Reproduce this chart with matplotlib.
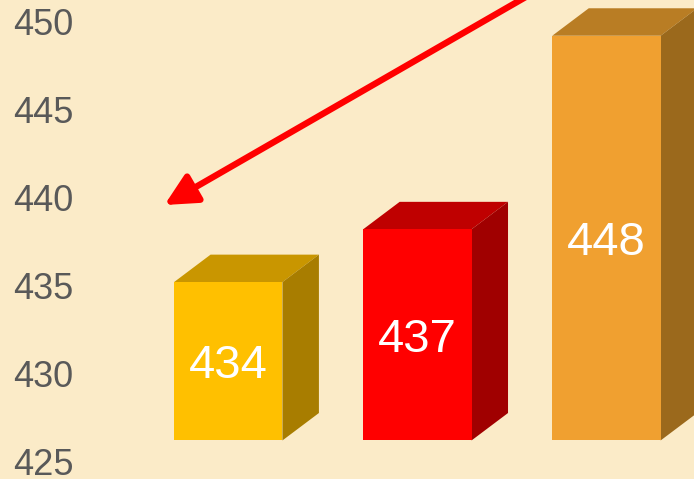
import matplotlib.pyplot as plt
import matplotlib.transforms as mtransforms
from matplotlib.patches import Polygon

plt.rcParams['font.family'] = ['Liberation Sans', 'DejaVu Sans']

# data
values = [434, 437, 448]
front_colors = ['#FFC000', '#FF0000', '#F0A030']
top_colors = ['#C99600', '#BF0000', '#B97D24']
side_colors = ['#A87D00', '#A00000', '#9B691C']
tick_values = [425, 430, 435, 440, 445, 450]
base = 425

bg = '#FBEBC8'
width = 0.573
dx, dy = 0.193, 1.56   # depth offset of the 3D boxes

fig = plt.figure(figsize=(6.94, 4.79), dpi=100, facecolor=bg)
ax = fig.add_axes([0, 0, 1, 1])
ax.set_facecolor(bg)
ax.set_xlim(-1.207, 2.463)
ax.set_ylim(422.81, 450.03)
ax.axis('off')

xs = list(range(len(values)))
ax.bar(xs, [v - base for v in values], bottom=base, width=width,
       color=front_colors, zorder=3)

for x, v, tc, sc in zip(xs, values, top_colors, side_colors):
    l, r = x - width / 2, x + width / 2
    top = Polygon([(l, v), (r, v), (r + dx, v + dy), (l + dx, v + dy)],
                  closed=True, facecolor=tc, edgecolor='none', zorder=2)
    side = Polygon([(r, base), (r + dx, base + dy), (r + dx, v + dy), (r, v)],
                   closed=True, facecolor=sc, edgecolor='none', zorder=2)
    ax.add_patch(top)
    ax.add_patch(side)

# value labels, centred on the front face
lab_tr = mtransforms.offset_copy(ax.transData, fig=fig, x=0, y=-17, units='dots')
for x, v in zip(xs, values):
    ax.text(x, (base + v) / 2, str(v), transform=lab_tr, ha='center',
            va='baseline', color='white', fontsize=34, zorder=4)

# axis labels (sit a bit lower than the front-face scale)
tick_tr = mtransforms.offset_copy(
    mtransforms.blended_transform_factory(ax.transAxes, ax.transData),
    fig=fig, x=0, y=-34.5, units='dots')
for t in tick_values:
    ax.text(0.106, t, str(t), transform=tick_tr, ha='right', va='baseline',
            color='#595959', fontsize=26)

# red arrow
ax.annotate('', xy=(0.237, 0.572), xytext=(0.762, 1.01),
            xycoords='axes fraction', textcoords='axes fraction',
            arrowprops=dict(arrowstyle='-|>,head_length=1.2,head_width=0.6',
                            mutation_scale=16, color='red', lw=4.6,
                            shrinkA=0, shrinkB=0), zorder=5)

fig.savefig('out.png', dpi=100, facecolor=bg)
